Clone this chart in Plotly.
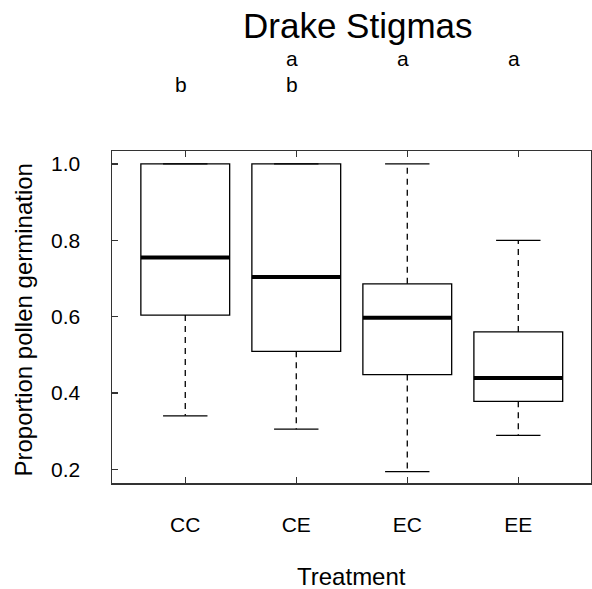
import plotly.graph_objects as go

# ---- data ----
categories = ["CC", "CE", "EC", "EE"]
lower_whisker = [0.340, 0.305, 0.194, 0.289]
q1_vals = [0.604, 0.509, 0.448, 0.378]
median_vals = [0.755, 0.704, 0.597, 0.439]
q3_vals = [1.000, 1.000, 0.686, 0.560]
upper_whisker = [1.000, 1.000, 1.000, 0.800]
letters = ["b", "ab", "a", "a"]
y_ticks = [0.2, 0.4, 0.6, 0.8, 1.0]
y_ticklabels = ["0.2", "0.4", "0.6", "0.8", "1.0"]

FONT = "Liberation Sans, Arial, sans-serif"
positions = list(range(1, len(categories) + 1))
box_w = 0.8
cap_half = box_w / 4

fig = go.Figure()

# boxes (whiskers drawn separately in R style)
fig.add_trace(go.Box(
    x=positions, q1=q1_vals, median=median_vals, q3=q3_vals,
    lowerfence=q1_vals, upperfence=q3_vals,
    width=box_w, whiskerwidth=0,
    fillcolor="white", line=dict(color="black", width=1.3),
    boxpoints=False, hoverinfo="skip", showlegend=False,
))

# dashed whiskers
wx, wy = [], []
for p, lo, a, b, hi in zip(positions, lower_whisker, q1_vals, q3_vals, upper_whisker):
    if hi > b:
        wx += [p, p, None]; wy += [b, hi, None]
    if lo < a:
        wx += [p, p, None]; wy += [a, lo, None]
fig.add_trace(go.Scatter(x=wx, y=wy, mode="lines",
                         line=dict(color="black", width=1.3, dash="6px,5px"),
                         hoverinfo="skip", showlegend=False))

# whisker caps
cx, cy = [], []
for p, lo, hi in zip(positions, lower_whisker, upper_whisker):
    cx += [p - cap_half, p + cap_half, None, p - cap_half, p + cap_half, None]
    cy += [lo, lo, None, hi, hi, None]
fig.add_trace(go.Scatter(x=cx, y=cy, mode="lines",
                         line=dict(color="black", width=1.3),
                         hoverinfo="skip", showlegend=False))

# thick medians
mx, my = [], []
for p, m in zip(positions, median_vals):
    mx += [p - box_w / 2, p + box_w / 2, None]
    my += [m, m, None]
fig.add_trace(go.Scatter(x=mx, y=my, mode="lines",
                         line=dict(color="black", width=4),
                         hoverinfo="skip", showlegend=False))

# significance letters
annotations = []
for p, lt in zip(positions, letters):
    if "a" in lt:
        annotations.append(dict(x=p, xref="x", y=1.2783, yref="paper", text="a",
                                showarrow=False, xshift=-4, yanchor="middle",
                                font=dict(size=21, color="black", family=FONT)))
    if "b" in lt:
        annotations.append(dict(x=p, xref="x", y=1.2, yref="paper", text="b",
                                showarrow=False, xshift=-4, yanchor="middle",
                                font=dict(size=21, color="black", family=FONT)))

annotations += [
    dict(x=0.5136, y=1.3774, xref="paper", yref="paper", text="Drake Stigmas",
         showarrow=False, xanchor="center", yanchor="middle",
         font=dict(size=35, color="black", family=FONT)),
    dict(x=0.501, y=-0.2819, xref="paper", yref="paper", text="Treatment",
         showarrow=False, xanchor="center", yanchor="middle",
         font=dict(size=24, color="black", family=FONT)),
    dict(x=-0.1846, y=0.491, xref="paper", yref="paper",
         text="Proportion pollen germination", textangle=-90,
         showarrow=False, xanchor="center", yanchor="middle",
         font=dict(size=24, color="black", family=FONT)),
]

fig.update_layout(
    width=592, height=589,
    margin=dict(l=112, r=1, t=151, b=106, autoexpand=False),
    paper_bgcolor="white", plot_bgcolor="white",
    font=dict(family=FONT, color="black"),
    annotations=annotations,
    showlegend=False,
)
fig.update_xaxes(
    range=[0.34, 4.655], tickmode="array", tickvals=positions, ticktext=categories,
    showgrid=False, zeroline=False,
    showline=True, linecolor="#333333", linewidth=1.5, mirror="allticks",
    ticks="inside", ticklen=6, tickwidth=1.3, tickcolor="#333333",
    tickfont=dict(size=21, color="black", family=FONT), ticklabelstandoff=22,
    automargin=False,
)
fig.update_yaxes(
    range=[0.164, 1.034], tickmode="array", tickvals=y_ticks, ticktext=y_ticklabels,
    showgrid=False, zeroline=False,
    showline=True, linecolor="#333333", linewidth=1.5, mirror=True,
    ticks="inside", ticklen=6, tickwidth=1.3, tickcolor="#333333",
    tickfont=dict(size=21, color="black", family=FONT), ticklabelstandoff=26,
    automargin=False,
)

fig.write_html(
    "out.html",
    config={"displayModeBar": False, "staticPlot": True},
    post_script="document.body.style.margin='0';document.body.style.padding='0';"
                "document.body.style.overflow='hidden';",
)
